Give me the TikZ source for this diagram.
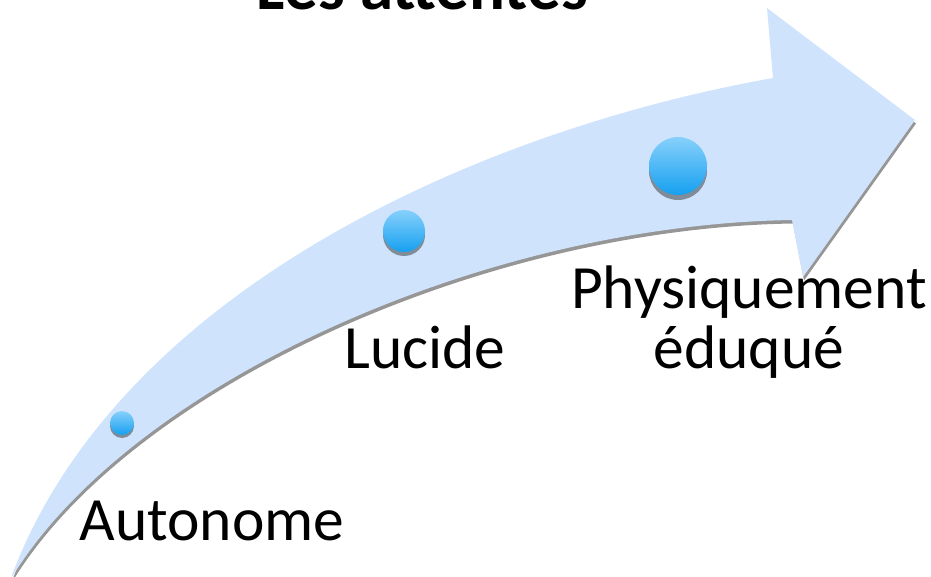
\documentclass[tikz,border=0pt]{standalone}
\usepackage{fontspec}
\setmainfont{Carlito}
\usetikzlibrary{positioning}

\definecolor{arrowblue}{RGB}{207,228,252}
\definecolor{edgegray}{RGB}{150,150,150}
\definecolor{dottop}{RGB}{135,208,251}
\definecolor{dotbottom}{RGB}{22,160,240}
\definecolor{dotshadow}{RGB}{128,140,152}

\tikzset{
  stepdot/.style={circle, inner sep=0pt, minimum size=#1, top color=dottop, bottom color=dotbottom, draw=none},
  dotshade/.style={circle, inner sep=0pt, minimum size=#1, fill=dotshadow, draw=none},
  steptext/.style={font=\fontsize{61.5}{60}\selectfont, align=center, inner sep=0pt}
}

\begin{document}
\begin{tikzpicture}[x=1pt, y=-1pt]
    \clip (0,0) rectangle (931,577);

    % ombre de la flèche
    \fill[edgegray, shift={(1,3.5)}] (12,575) .. controls (120,290) and (480,130) .. (773,78)
        -- (767,8) -- (915,120) -- (803,277) -- (792,220)
        .. controls (480,225) and (130,385) .. (12,577) -- cycle;
    % flèche courbe
    \fill[arrowblue] (12,575) .. controls (120,290) and (480,130) .. (773,78)
        -- (767,8) -- (915,120) -- (803,277) -- (792,220)
        .. controls (480,225) and (130,385) .. (12,577) -- cycle;

    % titre
    \node[steptext, font=\fontsize{67}{67}\selectfont\bfseries, anchor=base] (title) at (422,10) {Les attentes};

    % points
    \node[dotshade=24pt] (shadeA) at (122,426) {};
    \node[stepdot=24pt] (dotA) at (122,423) {};
    \node[dotshade=42pt] (shadeB) at (404,235) {};
    \node[stepdot=42pt] (dotB) at (404,231) {};
    \node[dotshade=58pt] (shadeC) at (678,171) {};
    \node[stepdot=58pt] (dotC) at (678,166) {};

    % textes
    \node[steptext, anchor=base] (autonome) at (212,540) {Autonome};
    \node[steptext, anchor=base] (lucide) at (425,368) {Lucide};
    \node[steptext] (physique) at (749,322) {Physiquement\\éduqué};
\end{tikzpicture}
\end{document}
